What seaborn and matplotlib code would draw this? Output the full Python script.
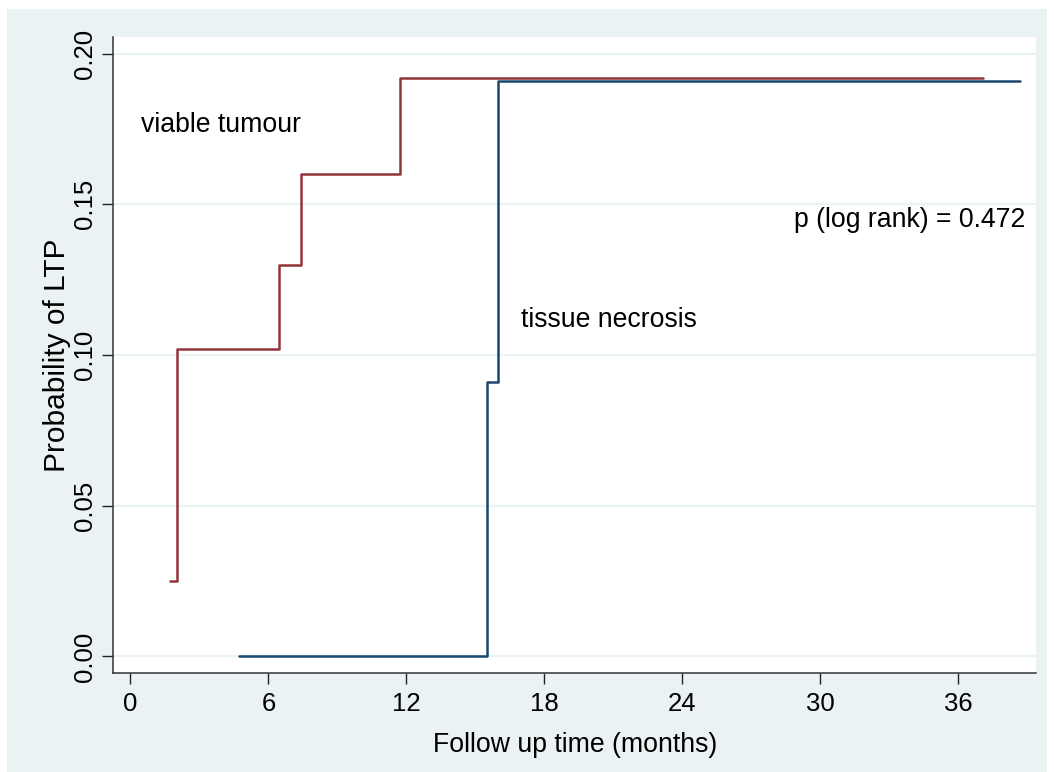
import matplotlib
matplotlib.use("Agg")
import matplotlib.pyplot as plt
from matplotlib.patches import Rectangle
import seaborn as sns
import pandas as pd

# Data (Kaplan-Meier failure curves)
viable_time = [1.72, 2.01, 6.47, 7.42, 11.72, 37.07]
viable_prob = [0.025, 0.102, 0.130, 0.160, 0.192, 0.192]
necrosis_time = [4.72, 15.49, 15.97, 38.68]
necrosis_prob = [0.0, 0.091, 0.191, 0.191]
groups = ["viable tumour", "tissue necrosis"]
x_ticks = [0, 6, 12, 18, 24, 30, 36]
y_ticks = [0.00, 0.05, 0.10, 0.15, 0.20]
p_text = "p (log rank) = 0.472"

df = pd.concat([
    pd.DataFrame({"time": viable_time, "prob": viable_prob, "group": groups[0]}),
    pd.DataFrame({"time": necrosis_time, "prob": necrosis_prob, "group": groups[1]}),
], ignore_index=True)

sns.set_theme(style="white")
plt.rcParams["font.family"] = ["Liberation Sans", "DejaVu Sans"]
plt.rcParams["text.color"] = "black"

BG = "#EAF2F3"
fig = plt.figure(figsize=(10.54, 7.72), dpi=100)
fig.patch.set_facecolor("white")
fig.patches.append(Rectangle((7 / 1054, 0), 1040 / 1054, 763 / 772,
                             transform=fig.transFigure, facecolor=BG,
                             edgecolor="none", zorder=-10))
ax = fig.add_axes([113.4 / 1054, (772 - 673) / 772, (1036 - 113.4) / 1054, (673 - 37) / 772])
ax.set_facecolor("white")

palette = {groups[0]: "#90353B", groups[1]: "#1A476F"}
sns.lineplot(data=df, x="time", y="prob", hue="group", palette=palette,
             estimator=None, sort=False, drawstyle="steps-post",
             linewidth=1.8, legend=False, ax=ax)

ax.set_xlim(-0.74, 39.37)
ax.set_ylim(-0.0055, 0.2055)
ax.set_xticks(x_ticks)
ax.set_xticklabels([str(t) for t in x_ticks])
ax.set_yticks(y_ticks)
ax.set_yticklabels([f"{t:.2f}" for t in y_ticks], rotation=90, va="center")
ax.yaxis.grid(True, color=BG, linewidth=1.6)
ax.xaxis.grid(False)
ax.set_axisbelow(True)

for s in ["top", "right"]:
    ax.spines[s].set_visible(False)
for s in ["left", "bottom"]:
    ax.spines[s].set_color("#333333")
    ax.spines[s].set_linewidth(1.1)
ax.tick_params(axis="both", which="major", direction="out", length=8,
               width=1.0, color="#222222", labelsize=18.5, labelcolor="black",
               left=True, bottom=True)
ax.tick_params(axis="x", pad=6)
ax.tick_params(axis="y", pad=4)

ax.set_xlabel("Follow up time (months)", fontsize=19.2, labelpad=11, color="black")
ax.set_ylabel("Probability of LTP", fontsize=21.5, labelpad=1, color="black")

ax.text(0.45, 0.1741, groups[0], fontsize=19.2, ha="left", va="baseline", color="black")
ax.text(16.97, 0.1094, groups[1], fontsize=19.2, ha="left", va="baseline", color="black")
ax.text(38.9, 0.1425, p_text, fontsize=19.2, ha="right", va="baseline", color="black")

fig.savefig("out.png", dpi=100, facecolor=fig.get_facecolor())
